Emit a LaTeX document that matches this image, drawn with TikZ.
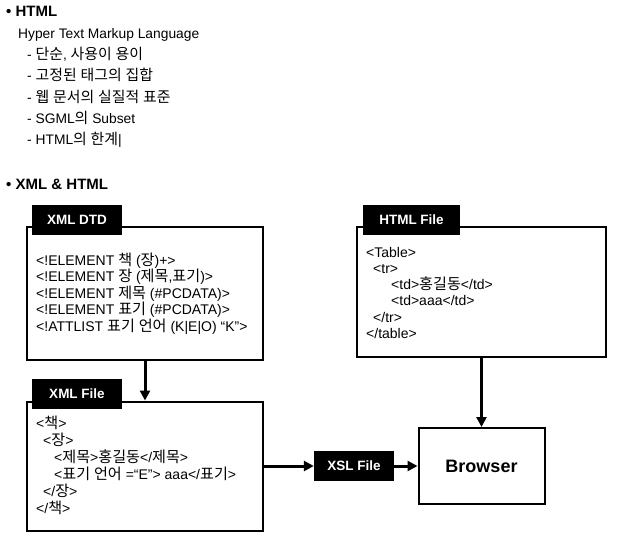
\documentclass[tikz,border=0pt]{standalone}
\usepackage{fontspec}
\setmainfont{Liberation Sans}
\newfontfamily\kr[Scale=1.08]{Noto Sans CJK KR}
\usetikzlibrary{arrows.meta}

% Hangul in the Korean font, the rest in the main font
\XeTeXinterchartokenstate=1
\newXeTeXintercharclass\hangulclass
\count255="AC00
\loop
  \XeTeXcharclass\count255=\hangulclass
  \ifnum\count255<"D7A3 \advance\count255 by 1 \repeat
\XeTeXinterchartoks 0 \hangulclass = {\kr}
\XeTeXinterchartoks 4095 \hangulclass = {\kr}
\XeTeXinterchartoks \hangulclass 0 = {\rmfamily}
\XeTeXinterchartoks \hangulclass 4095 = {\rmfamily}

\tikzset{
  frame/.style={draw, line width=2pt, fill=white, inner sep=0pt},
  tagbox/.style={fill=black, text=white, inner sep=0pt, minimum height=30,
    font=\bfseries\fontsize{13.5}{16}\selectfont},
  codeline/.style={anchor=base west, inner sep=0pt, font=\fontsize{14}{16}\selectfont},
  listline/.style={anchor=base west, inner sep=0pt, font=\fontsize{13.8}{16}\selectfont},
  heading/.style={anchor=base west, inner sep=0pt, font=\bfseries\fontsize{15}{17}\selectfont},
  link/.style={line width=3pt, -{Triangle[length=10pt,width=10pt]}},
}

\begin{document}
\begin{tikzpicture}[x=1pt,y=-1pt]
\useasboundingbox (0,0) rectangle (617,536);

% upper part: the list
\node[heading] (h1) at (6, 16.5) {• HTML};
\node[listline] (l0) at (18, 38) {Hyper Text Markup Language};
\node[listline] (l1) at (27, 59) {- 단순, 사용이 용이};
\node[listline] (l2) at (27, 80) {- 고정된 태그의 집합};
\node[listline] (l3) at (27, 102) {- 웹 문서의 실질적 표준};
\node[listline] (l4) at (27, 123) {- SGML의 Subset};
\node[listline] (l5) at (27, 144) {- HTML의 한계|};

\node[heading] (h2) at (6, 189.5) {• XML \& HTML};

% frames
\node[frame, minimum width=236, minimum height=133] (dtd) at (145, 293.5) {};
\node[frame, minimum width=249, minimum height=130] (html) at (481.5, 292) {};
\node[frame, minimum width=236, minimum height=129] (xml) at (145, 466) {};
\node[frame, minimum width=126, minimum height=76, font=\bfseries\fontsize{18}{20}\selectfont] (browser) at (481.5, 466) {Browser};

% black labels
\node[tagbox, minimum width=90] (dtdtag) at (77, 219.5) {XML DTD};
\node[tagbox, minimum width=97] (htmltag) at (411.5, 219.5) {HTML File};
\node[tagbox, minimum width=90] (xmltag) at (77, 394) {XML File};
\node[tagbox, minimum width=80] (xsl) at (354, 466) {XSL File};

% XML DTD
\node[codeline] (d1) at (36, 265.5) {<!ELEMENT 책 (장)+>};
\node[codeline] (d2) at (36, 281.9) {<!ELEMENT 장 (제목,표기)>};
\node[codeline] (d3) at (36, 298.3) {<!ELEMENT 제목 (\#PCDATA)>};
\node[codeline] (d4) at (36, 314.7) {<!ELEMENT 표기 (\#PCDATA)>};
\node[codeline] (d5) at (36, 331.1) {<!ATTLIST 표기 언어 (K|E|O) “K”>};

% HTML File
\node[codeline] (t1) at (366, 257) {<Table>};
\node[codeline] (t2) at (373, 273.3) {<tr>};
\node[codeline] (t3) at (391, 289.6) {<td>홍길동</td>};
\node[codeline] (t4) at (391, 305.9) {<td>aaa</td>};
\node[codeline] (t5) at (373, 322.2) {</tr>};
\node[codeline] (t6) at (366, 338.5) {</table>};

% XML File
\node[codeline] (x1) at (36, 428) {<책>};
\node[codeline] (x2) at (43, 445) {<장>};
\node[codeline] (x3) at (54, 462) {<제목>홍길동</제목>};
\node[codeline] (x4) at (54, 479) {<표기 언어 =“E”> aaa</표기>};
\node[codeline] (x5) at (43, 496) {</장>};
\node[codeline] (x6) at (36, 513) {</책>};

% arrows
\draw[link] (dtd.south) -- (xml.north);
\draw[link] (html.south) -- (browser.north);
\draw[link] (xml.east) -- (xsl.west);
\draw[link] (xsl.east) -- (browser.west);
\end{tikzpicture}
\end{document}
